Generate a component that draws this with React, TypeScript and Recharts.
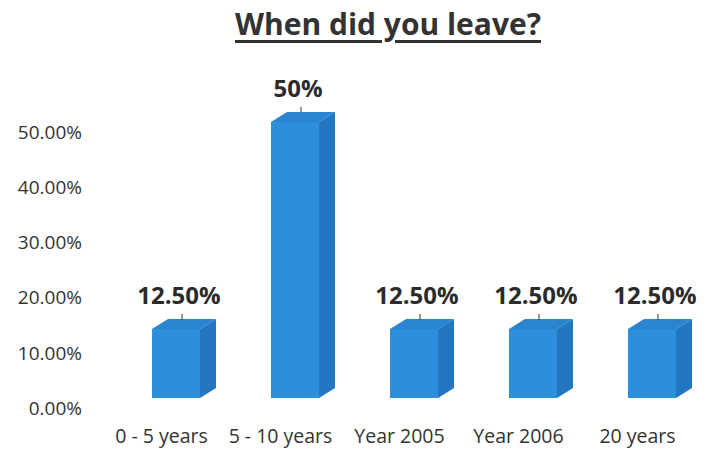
import React from "react";
import { BarChart, Bar, XAxis, YAxis, LabelList } from "recharts";

const categories: string[] = ["0 - 5 years", "5 - 10 years", "Year 2005", "Year 2006", "20 years"];
const shares: number[] = [0.125, 0.5, 0.125, 0.125, 0.125];
const valueLabels: string[] = ["12.50%", "50%", "12.50%", "12.50%", "12.50%"];
const yTicks: number[] = [0, 0.1, 0.2, 0.3, 0.4, 0.5];

const data = categories.map((name, i) => ({
  name,
  share: shares[i],
  label: valueLabels[i],
}));

// 3D look: front face shifted right, depth goes up-right
const DX = 16;
const DY = 10;
const LIFT = 10;
const SHIFT = 14;

const Bar3D = (props: any) => {
  const { x, y, width, height } = props;
  const fx = x + SHIFT;
  const top = y - LIFT;
  const bottom = y + height - LIFT;
  const w = width;
  const front = `M${fx},${top} L${fx + w},${top} L${fx + w},${bottom} L${fx},${bottom} Z`;
  const topFace = `M${fx},${top} L${fx + DX},${top - DY} L${fx + w + DX},${top - DY} L${fx + w},${top} Z`;
  const side = `M${fx + w},${top} L${fx + w + DX},${top - DY} L${fx + w + DX},${bottom - DY} L${fx + w},${bottom} Z`;
  const mx = fx + w / 2 + 6;
  return (
    <g>
      <path d={side} fill="#2277c0" />
      <path d={topFace} fill="#2a84cf" />
      <path d={front} fill="#2d8fdb" />
      <line x1={mx} y1={top - DY - 5} x2={mx} y2={top - DY + 1} stroke="#555" strokeWidth={1.2} />
    </g>
  );
};

const renderLabel = (props: any) => {
  const { x, y, width, value } = props;
  return (
    <text
      x={x + width / 2 + SHIFT + 3}
      y={y - LIFT - 25}
      textAnchor="middle"
      fontFamily="'Open Sans', sans-serif"
      fontWeight={700}
      fontSize={24}
      fill="#2b2b2b"
    >
      {value}
    </text>
  );
};

const App: React.FC = () => {
  return (
    <div style={{ position: "absolute", left: 0, top: 0, width: 719, height: 450, background: "#fff" }}>
      <div
        style={{
          position: "absolute",
          left: 0,
          width: 776,
          top: 3,
          textAlign: "center",
          fontFamily: "'Open Sans', sans-serif",
          fontWeight: 700,
          fontSize: 30,
          color: "#333",
          textDecoration: "underline",
          textDecorationThickness: 3,
          textUnderlineOffset: 5,
        }}
      >
        When did you leave?
      </div>
      <BarChart
        width={719}
        height={450}
        data={data}
        margin={{ top: 132, right: 22, left: 0, bottom: 0 }}
        barSize={48}
      >
        <XAxis
          dataKey="name"
          axisLine={false}
          tickLine={false}
          tickSize={0}
          tickMargin={21}
          height={42}
          interval={0}
          tick={{ fontFamily: "'Open Sans', sans-serif", fontSize: 19.5, fill: "#333" }}
        />
        <YAxis
          domain={[0, 0.5]}
          ticks={yTicks}
          axisLine={false}
          tickLine={false}
          tickSize={0}
          tickMargin={20}
          width={102}
          tickFormatter={(v: number) => `${(v * 100).toFixed(2)}%`}
          tick={{ fontFamily: "'Open Sans', sans-serif", fontSize: 19, fill: "#333" }}
        />
        <Bar dataKey="share" shape={Bar3D} isAnimationActive={false}>
          <LabelList dataKey="label" content={renderLabel} />
        </Bar>
      </BarChart>
    </div>
  );
};

export default App;
